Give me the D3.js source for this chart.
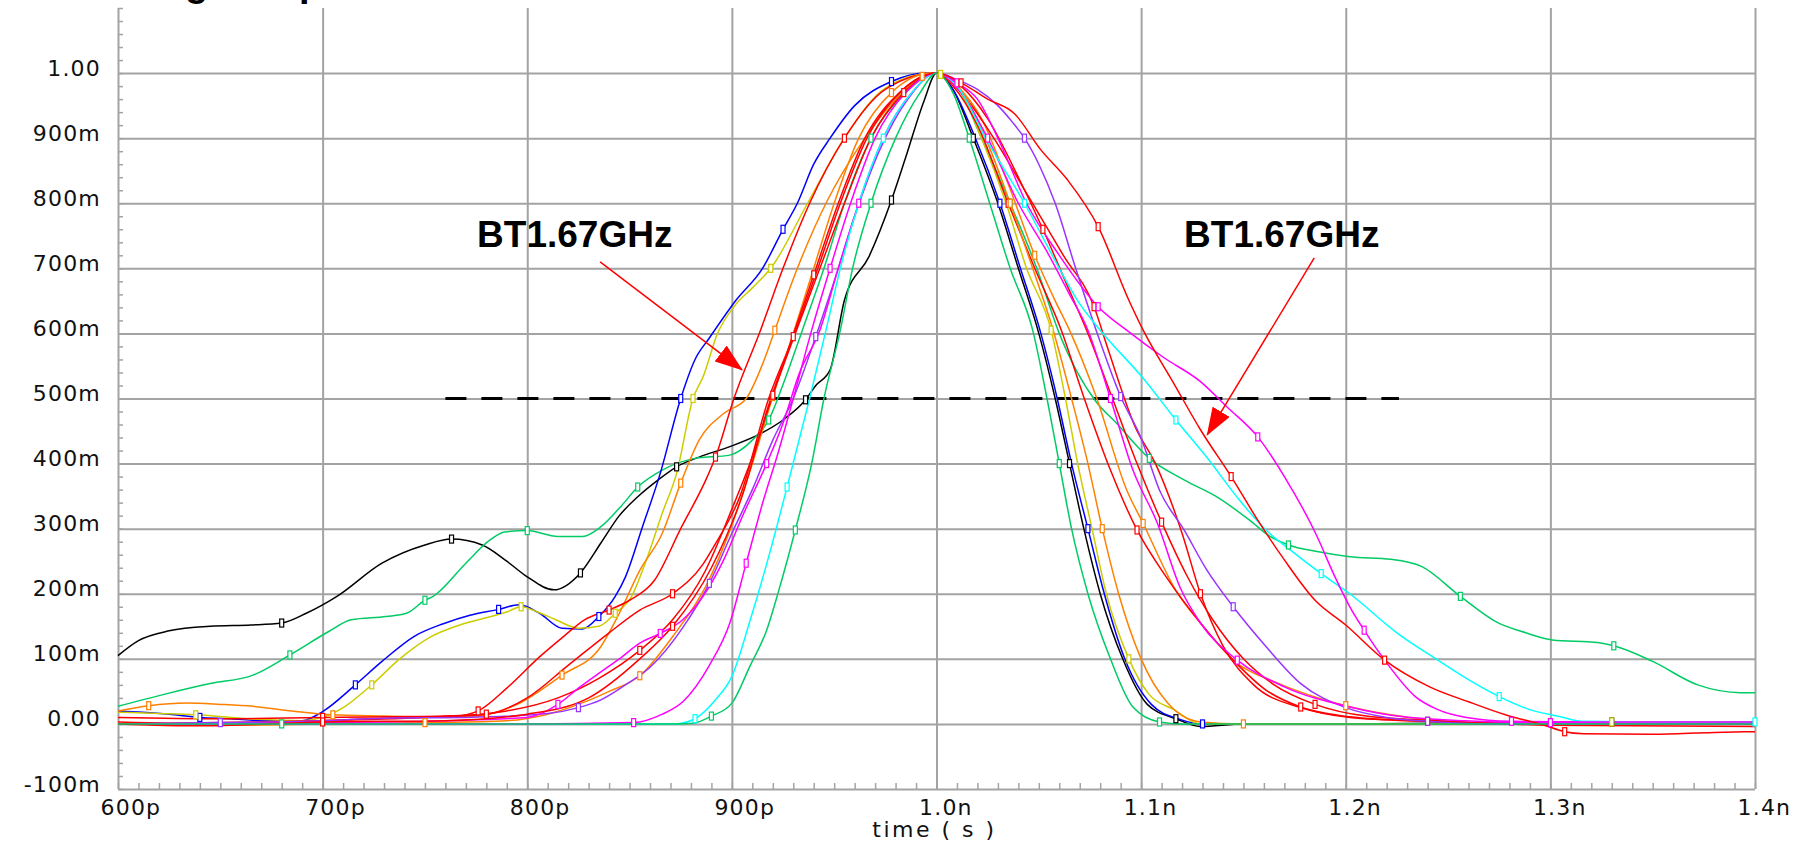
<!DOCTYPE html>
<html>
<head>
<meta charset="utf-8">
<script src="https://cdn.jsdelivr.net/npm/d3@7"></script>
<style>
    html, body { margin: 0; padding: 0; background: #fff; }
    svg { display: block; }
    .grid line { stroke: #a3a3a3; stroke-width: 2; }
    .grid path, .minor path { display: none; }
    .minor line { stroke: #a3a3a3; stroke-width: 1.5; }
    .tick-label { font-family: "DejaVu Sans", sans-serif; font-size: 22px; letter-spacing: 1.2px; fill: #111; }
    .axis-title { font-family: "DejaVu Sans", sans-serif; font-size: 22px; letter-spacing: 2.5px; fill: #111; }
    .wave { fill: none; stroke-width: 1.5; stroke-linejoin: round; }
    .wave-marker { fill: #fff; stroke-width: 1.2; }
    .threshold { stroke: #000; stroke-width: 3; stroke-dasharray: 21 15; }
    .note { font-family: "Liberation Sans", Arial, sans-serif; font-weight: bold; font-size: 37px; fill: #000; }
    .note-arrow { stroke: #ff0000; stroke-width: 1.5; }
</style>
</head>
<body>
<svg id="chart" width="1800" height="846" xmlns="http://www.w3.org/2000/svg"></svg>
<script>
// axis ticks (time in ps, voltage in V)
const timeTicks = [600, 700, 800, 900, 1000, 1100, 1200, 1300, 1400];
const timeTickLabels = ['600p', '700p', '800p', '900p', '1.0n', '1.1n', '1.2n', '1.3n', '1.4n'];
const voltTicks = [1.0, 0.9, 0.8, 0.7, 0.6, 0.5, 0.4, 0.3, 0.2, 0.1, 0.0, -0.1];
const voltTickLabels = ['1.00', '900m', '800m', '700m', '600m', '500m', '400m', '300m', '200m', '100m', '0.00', '-100m'];

// waveforms, [time ps, volt]
const blackWave = [[600,0.105],[610,0.128],[625,0.143],[645,0.15],[665,0.152],[680,0.155],[692,0.17],[707,0.196],[729,0.247],[750,0.275],[763,0.284],[778,0.275],[790,0.25],[800,0.226],[813,0.206],[826,0.232],[836,0.278],[845,0.32],[854,0.349],[864,0.375],[873,0.395],[884,0.41],[899,0.426],[914,0.446],[925,0.467],[936,0.498],[941,0.52],[948,0.544],[955,0.651],[967,0.718],[978,0.805],[985,0.871],[994,0.958],[1000,1.0],[1008,0.975],[1018,0.9],[1030,0.8],[1040,0.7],[1050,0.6],[1058,0.5],[1065,0.4],[1072,0.3],[1080,0.2],[1091,0.1],[1103,0.03],[1117,0.008],[1129,-0.004],[1150,0.0],[1200,0.0],[1270,0.002],[1330,0.003],[1400,0.003]];
const greenShoulderWave = [[600,0.027],[622,0.045],[645,0.062],[666,0.075],[684,0.106],[703,0.142],[714,0.16],[731,0.165],[741,0.17],[750,0.19],[754,0.196],[770,0.247],[782,0.283],[789,0.295],[800,0.297],[815,0.288],[827,0.288],[836,0.303],[846,0.335],[854,0.364],[866,0.39],[882,0.408],[899,0.413],[910,0.436],[918,0.467],[926,0.53],[935,0.61],[945,0.7],[955,0.8],[968,0.9],[985,0.97],[1000,1.0],[1010,0.98],[1022,0.9],[1036,0.8],[1049,0.7],[1060,0.6],[1078,0.495],[1088,0.462],[1104,0.408],[1121,0.375],[1138,0.347],[1153,0.313],[1163,0.288],[1172,0.275],[1186,0.265],[1202,0.257],[1222,0.253],[1237,0.242],[1256,0.196],[1274,0.156],[1288,0.14],[1301,0.129],[1323,0.125],[1331,0.12],[1350,0.096],[1372,0.06],[1393,0.048],[1400,0.048]];
const greenSharpWave = [[600,0.0],[680,0.0],[760,0.0],[840,0.0],[872,0.0],[881,0.001],[890,0.012],[900,0.032],[909,0.09],[917,0.144],[923,0.206],[931,0.298],[939,0.4],[945,0.5],[953,0.605],[959,0.7],[968,0.8],[980,0.9],[992,0.97],[1000,1.0],[1008,0.97],[1016,0.9],[1026,0.8],[1036,0.7],[1047,0.605],[1054,0.5],[1060,0.4],[1066,0.3],[1074,0.2],[1085,0.1],[1096,0.026],[1109,0.003],[1120,0.0],[1200,0.0],[1300,0.0],[1400,0.0]];
const blueWave = [[600,0.02],[612,0.018],[625,0.015],[640,0.01],[655,0.008],[670,0.005],[690,0.005],[700,0.019],[716,0.06],[729,0.096],[745,0.135],[759,0.154],[772,0.167],[786,0.176],[796,0.183],[806,0.17],[817,0.147],[827,0.146],[835,0.165],[843,0.196],[848,0.226],[856,0.3],[865,0.385],[875,0.5],[882,0.56],[889,0.593],[902,0.651],[915,0.7],[925,0.76],[932,0.8],[940,0.86],[948,0.9],[960,0.95],[978,0.987],[995,1.0],[1000,1.0],[1008,0.975],[1019,0.9],[1031,0.8],[1041,0.7],[1051,0.6],[1059,0.5],[1066,0.4],[1074,0.3],[1082,0.2],[1092,0.1],[1105,0.03],[1119,0.007],[1130,0.0],[1250,0.0],[1330,0.002],[1400,0.002]];
const yellowWave = [[600,0.018],[620,0.016],[638,0.014],[668,0.007],[690,0.005],[700,0.01],[711,0.027],[724,0.06],[737,0.098],[753,0.134],[767,0.152],[790,0.172],[797,0.18],[805,0.172],[814,0.16],[825,0.147],[835,0.15],[843,0.17],[851,0.196],[858,0.25],[866,0.324],[873,0.385],[881,0.5],[886,0.534],[893,0.6],[901,0.641],[910,0.67],[919,0.7],[937,0.8],[955,0.9],[975,0.977],[998,1.0],[1002,0.998],[1012,0.97],[1022,0.9],[1034,0.8],[1044,0.7],[1056,0.605],[1063,0.5],[1069,0.4],[1076,0.3],[1083,0.2],[1094,0.1],[1104,0.045],[1116,0.022],[1129,0.0],[1250,0.0],[1330,0.003],[1400,0.003]];
const orangeEarlyWave = [[600,0.02],[615,0.028],[634,0.032],[650,0.03],[666,0.027],[685,0.02],[705,0.014],[730,0.012],[760,0.01],[776,0.012],[795,0.03],[817,0.075],[836,0.119],[845,0.17],[855,0.236],[866,0.293],[875,0.37],[884,0.436],[896,0.477],[907,0.5],[916,0.561],[921,0.605],[932,0.7],[946,0.8],[965,0.9],[980,0.96],[993,0.995],[1000,1.0],[1010,0.98],[1022,0.93],[1035,0.83],[1048,0.72],[1058,0.65],[1065,0.605],[1078,0.503],[1093,0.359],[1101,0.308],[1117,0.205],[1129,0.155],[1147,0.093],[1165,0.065],[1200,0.028],[1222,0.014],[1241,0.006],[1274,0.0],[1400,0.0]];
const orangeFastWave = [[600,0.0],[650,-0.002],[700,0.0],[750,0.002],[790,0.005],[810,0.015],[825,0.03],[840,0.05],[855,0.074],[871,0.134],[888,0.216],[899,0.297],[909,0.39],[920,0.503],[930,0.6],[940,0.7],[950,0.8],[962,0.9],[978,0.97],[998,1.0],[1003,0.998],[1013,0.97],[1024,0.9],[1036,0.8],[1047,0.7],[1057,0.605],[1066,0.5],[1074,0.4],[1081,0.3],[1089,0.2],[1100,0.1],[1113,0.032],[1129,0.003],[1150,0.0],[1400,0.0]];
const redArrowWave = [[600,0.003],[650,0.0],[700,0.005],[740,0.01],[765,0.012],[776,0.02],[790,0.055],[806,0.103],[818,0.135],[828,0.16],[840,0.175],[850,0.19],[862,0.22],[875,0.3],[888,0.38],[892,0.41],[901,0.5],[914,0.605],[925,0.7],[938,0.8],[955,0.9],[975,0.975],[1000,1.0],[1008,0.98],[1020,0.92],[1035,0.8],[1048,0.7],[1061,0.605],[1072,0.502],[1085,0.39],[1098,0.298],[1112,0.227],[1129,0.155],[1145,0.098],[1161,0.052],[1178,0.026],[1202,0.011],[1240,0.004],[1300,0.0],[1400,0.0]];
const redBundleWave = [[600,0.0],[650,0.002],[700,0.005],[750,0.01],[780,0.015],[800,0.04],[820,0.09],[840,0.14],[855,0.175],[871,0.2],[886,0.246],[892,0.277],[904,0.35],[918,0.5],[930,0.595],[942,0.7],[953,0.8],[966,0.9],[982,0.97],[1000,1.0],[1012,0.97],[1028,0.9],[1045,0.81],[1062,0.72],[1077,0.641],[1084,0.574],[1097,0.457],[1107,0.4],[1120,0.293],[1129,0.2],[1140,0.12],[1155,0.06],[1178,0.025],[1202,0.01],[1240,0.004],[1300,0.0],[1400,0.0]];
const redSlowWave = [[600,0.0],[640,-0.003],[700,0.003],[760,0.005],[800,0.015],[830,0.04],[855,0.1],[871,0.15],[890,0.24],[905,0.35],[917,0.48],[928,0.58],[940,0.69],[952,0.8],[965,0.9],[982,0.97],[1000,1.0],[1012,0.985],[1025,0.96],[1038,0.938],[1051,0.882],[1064,0.836],[1079,0.764],[1094,0.651],[1101,0.605],[1116,0.523],[1129,0.452],[1144,0.38],[1157,0.313],[1170,0.252],[1185,0.19],[1200,0.152],[1219,0.098],[1241,0.057],[1260,0.034],[1278,0.014],[1297,-0.002],[1307,-0.012],[1316,-0.015],[1350,-0.016],[1380,-0.013],[1400,-0.012]];
const redMidWave = [[600,0.01],[650,0.008],[700,0.01],[760,0.012],[790,0.02],[815,0.04],[835,0.07],[855,0.113],[871,0.16],[887,0.235],[900,0.33],[910,0.41],[920,0.505],[931,0.6],[943,0.7],[955,0.8],[968,0.9],[984,0.97],[1000,1.0],[1012,0.98],[1025,0.93],[1040,0.84],[1052,0.76],[1063,0.68],[1074,0.6],[1086,0.5],[1098,0.4],[1110,0.31],[1122,0.23],[1135,0.16],[1150,0.1],[1165,0.06],[1185,0.03],[1210,0.012],[1250,0.004],[1300,-0.002],[1400,-0.004]];
const purpleWave = [[600,0.0],[650,0.002],[692,0.004],[735,0.009],[770,0.01],[810,0.016],[825,0.025],[836,0.037],[848,0.06],[860,0.087],[876,0.148],[889,0.216],[900,0.293],[910,0.36],[920,0.436],[930,0.5],[941,0.595],[950,0.68],[960,0.78],[972,0.88],[986,0.96],[1000,1.0],[1010,0.99],[1020,0.975],[1030,0.95],[1037,0.925],[1043,0.9],[1050,0.86],[1058,0.8],[1068,0.7],[1078,0.605],[1090,0.503],[1100,0.439],[1109,0.359],[1121,0.298],[1132,0.237],[1145,0.18],[1161,0.119],[1178,0.062],[1200,0.025],[1220,0.01],[1240,0.004],[1270,0.0],[1400,0.0]];
const cyanWave = [[600,0.0],[700,0.0],[800,0.0],[872,0.0],[882,0.008],[892,0.037],[900,0.073],[909,0.16],[918,0.257],[927,0.364],[938,0.5],[946,0.605],[953,0.7],[962,0.8],[974,0.9],[988,0.97],[1000,1.0],[1010,0.98],[1024,0.9],[1043,0.8],[1060,0.7],[1069,0.65],[1080,0.605],[1101,0.531],[1117,0.467],[1132,0.41],[1148,0.344],[1161,0.298],[1173,0.267],[1188,0.231],[1202,0.2],[1225,0.14],[1245,0.098],[1260,0.068],[1275,0.042],[1290,0.022],[1305,0.011],[1315,0.004],[1350,0.003],[1400,0.003]];
const magentaEarlyWave = [[600,0.0],[650,0.0],[700,0.002],[760,0.005],[800,0.01],[815,0.03],[825,0.055],[836,0.08],[845,0.1],[855,0.124],[865,0.139],[876,0.16],[888,0.206],[896,0.252],[905,0.318],[917,0.4],[925,0.462],[933,0.539],[943,0.605],[952,0.7],[962,0.8],[974,0.9],[988,0.97],[1000,1.0],[1012,0.97],[1025,0.9],[1040,0.8],[1055,0.72],[1065,0.66],[1074,0.605],[1085,0.5],[1096,0.39],[1108,0.308],[1119,0.21],[1129,0.155],[1147,0.098],[1170,0.057],[1202,0.026],[1225,0.012],[1258,0.005],[1300,0.002],[1400,0.002]];
const magentaShoulderWave = [[600,0.0],[700,0.0],[800,0.0],[852,0.002],[866,0.015],[876,0.034],[889,0.09],[899,0.155],[907,0.247],[915,0.339],[923,0.421],[930,0.5],[939,0.605],[948,0.7],[958,0.8],[970,0.9],[985,0.97],[1000,1.0],[1010,0.985],[1020,0.96],[1030,0.9],[1044,0.8],[1060,0.72],[1079,0.641],[1095,0.6],[1111,0.563],[1129,0.526],[1142,0.487],[1157,0.441],[1170,0.38],[1186,0.288],[1194,0.231],[1202,0.18],[1209,0.144],[1219,0.098],[1234,0.042],[1245,0.022],[1259,0.01],[1281,0.004],[1330,0.003],[1400,0.003]];

// 50% threshold and the two notes
const thresholdLine = [[760, 0.5], [1226, 0.5]];
const noteLabels = ['BT1.67GHz', 'BT1.67GHz'];
const noteTextAt = [[775.5, 0.733], [1121, 0.733]];
const noteArrowFrom = [[835.6, 0.71], [1184.6, 0.716]];
const noteArrowTo = [[905, 0.544], [1132.3, 0.444]];

class PulseChart {
    constructor(svgNode) {
        this.$svg = d3.select(svgNode);
        this._setDefaults();
    }

    _setDefaults() {
        this.xScale = d3.scaleLinear().domain([600, 1400]).range([118, 1755]);
        this.yScale = d3.scaleLinear().domain([-0.1, 1.1]).range([789, 8]);
    }

    renderChart() {
        const waves = [
            {data: blackWave, color: '#000000'},
            {data: greenShoulderWave, color: '#00cc66'},
            {data: blueWave, color: '#0000ff'},
            {data: yellowWave, color: '#cccc00'},
            {data: orangeEarlyWave, color: '#ff8000'},
            {data: redArrowWave, color: '#ff0000'},
            {data: redBundleWave, color: '#ff0000'},
            {data: orangeFastWave, color: '#ff8000'},
            {data: redMidWave, color: '#ff0000'},
            {data: purpleWave, color: '#9933ff'},
            {data: magentaEarlyWave, color: '#ff00ff'},
            {data: cyanWave, color: '#00ffff'},
            {data: magentaShoulderWave, color: '#ff00ff'},
            {data: redSlowWave, color: '#ff0000'},
            {data: greenSharpWave, color: '#00cc66'}
        ];

        this._renderTitle();
        this._renderAxes();
        this._renderThreshold();
        this._renderWaves(waves);
        this._renderMarkers(waves);
        this._renderNotes();
    }

    _renderTitle() {
        // title is cut off by the top of the picture, only descenders show
        this.$svg.append('text')
            .attr('class', 'note')
            .attr('x', 95)
            .attr('y', -4)
            .style('font-size', '38px')
            .text('Voltage output');
    }

    _renderAxes() {
        const x = this.xScale, y = this.yScale;
        const plotW = x.range()[1] - x.range()[0];
        const plotH = y.range()[0] - y.range()[1];

        // minor ticks
        this.$svg.append('g')
            .attr('class', 'minor')
            .attr('transform', `translate(${x.range()[0]},0)`)
            .call(d3.axisRight(y).ticks(60).tickSize(5).tickFormat(''));
        this.$svg.append('g')
            .attr('class', 'minor')
            .attr('transform', `translate(0,${y.range()[0]})`)
            .call(d3.axisTop(x).ticks(80).tickSize(6).tickFormat(''));

        // grid
        this.$svg.append('g')
            .attr('class', 'grid')
            .attr('transform', `translate(${x.range()[0]},0)`)
            .call(d3.axisRight(y).tickValues(voltTicks).tickSize(plotW).tickFormat(''));
        this.$svg.append('g')
            .attr('class', 'grid')
            .attr('transform', `translate(0,${y.range()[0]})`)
            .call(d3.axisTop(x).tickValues(timeTicks).tickSize(plotH).tickFormat(''));

        // labels
        const yAxis = this.$svg.append('g')
            .attr('transform', `translate(${x.range()[0]},0)`)
            .call(d3.axisLeft(y).tickValues(voltTicks).tickSize(0).tickPadding(17)
                .tickFormat((d, i) => voltTickLabels[i]));
        yAxis.select('.domain').remove();
        yAxis.selectAll('text').attr('class', 'tick-label').attr('dy', 2);

        const xAxis = this.$svg.append('g')
            .attr('transform', `translate(0,${y.range()[0]})`)
            .call(d3.axisBottom(x).tickValues(timeTicks).tickSize(0)
                .tickFormat((d, i) => timeTickLabels[i]));
        xAxis.select('.domain').remove();
        xAxis.selectAll('text')
            .attr('class', 'tick-label')
            .attr('text-anchor', 'start')
            .attr('x', -18)
            .attr('y', 26)
            .attr('dy', 0);

        this.$svg.append('text')
            .attr('class', 'axis-title')
            .attr('x', x(1000) - 2)
            .attr('y', 837)
            .attr('text-anchor', 'middle')
            .text('time ( s )');
    }

    _renderThreshold() {
        const line = d3.line().x(d => this.xScale(d[0])).y(d => this.yScale(d[1]));
        this.$svg.append('path')
            .attr('class', 'threshold')
            .attr('d', line(thresholdLine));
    }

    _renderWaves(waves) {
        const line = d3.line()
            .x(d => this.xScale(d[0]))
            .y(d => this.yScale(d[1]))
            .curve(d3.curveMonotoneX);

        this.$svg.append('g')
            .selectAll('path')
            .data(waves)
            .enter()
            .append('path')
            .attr('class', 'wave')
            .attr('stroke', d => d.color)
            .attr('d', d => line(d.data));
    }

    _renderMarkers(waves) {
        const x = this.xScale, y = this.yScale;
        waves.forEach((w, k) => {
            // a few sample symbols per trace, skipping the shared peak
            const picked = w.data.filter((d, i) => (i + k) % 5 === 0 && i > 0 && d[0] !== 1000);
            this.$svg.append('g')
                .selectAll('rect')
                .data(picked)
                .enter()
                .append('rect')
                .attr('class', 'wave-marker')
                .attr('stroke', w.color)
                .attr('x', d => x(d[0]) - 2)
                .attr('y', d => y(d[1]) - 4)
                .attr('width', 4)
                .attr('height', 8);
        });
    }

    _renderNotes() {
        const x = this.xScale, y = this.yScale;

        this.$svg.append('defs')
            .append('marker')
            .attr('id', 'arrow-head')
            .attr('markerUnits', 'userSpaceOnUse')
            .attr('markerWidth', 28)
            .attr('markerHeight', 20)
            .attr('refX', 27)
            .attr('refY', 10)
            .attr('orient', 'auto')
            .append('path')
            .attr('d', 'M0,0 L28,10 L0,20 Z')
            .attr('fill', '#ff0000');

        noteLabels.forEach((label, i) => {
            this.$svg.append('line')
                .attr('class', 'note-arrow')
                .attr('x1', x(noteArrowFrom[i][0]))
                .attr('y1', y(noteArrowFrom[i][1]))
                .attr('x2', x(noteArrowTo[i][0]))
                .attr('y2', y(noteArrowTo[i][1]))
                .attr('marker-end', 'url(#arrow-head)');

            this.$svg.append('text')
                .attr('class', 'note')
                .attr('x', x(noteTextAt[i][0]))
                .attr('y', y(noteTextAt[i][1]))
                .text(label);
        });
    }
}

new PulseChart(document.getElementById('chart')).renderChart();
</script>
</body>
</html>
